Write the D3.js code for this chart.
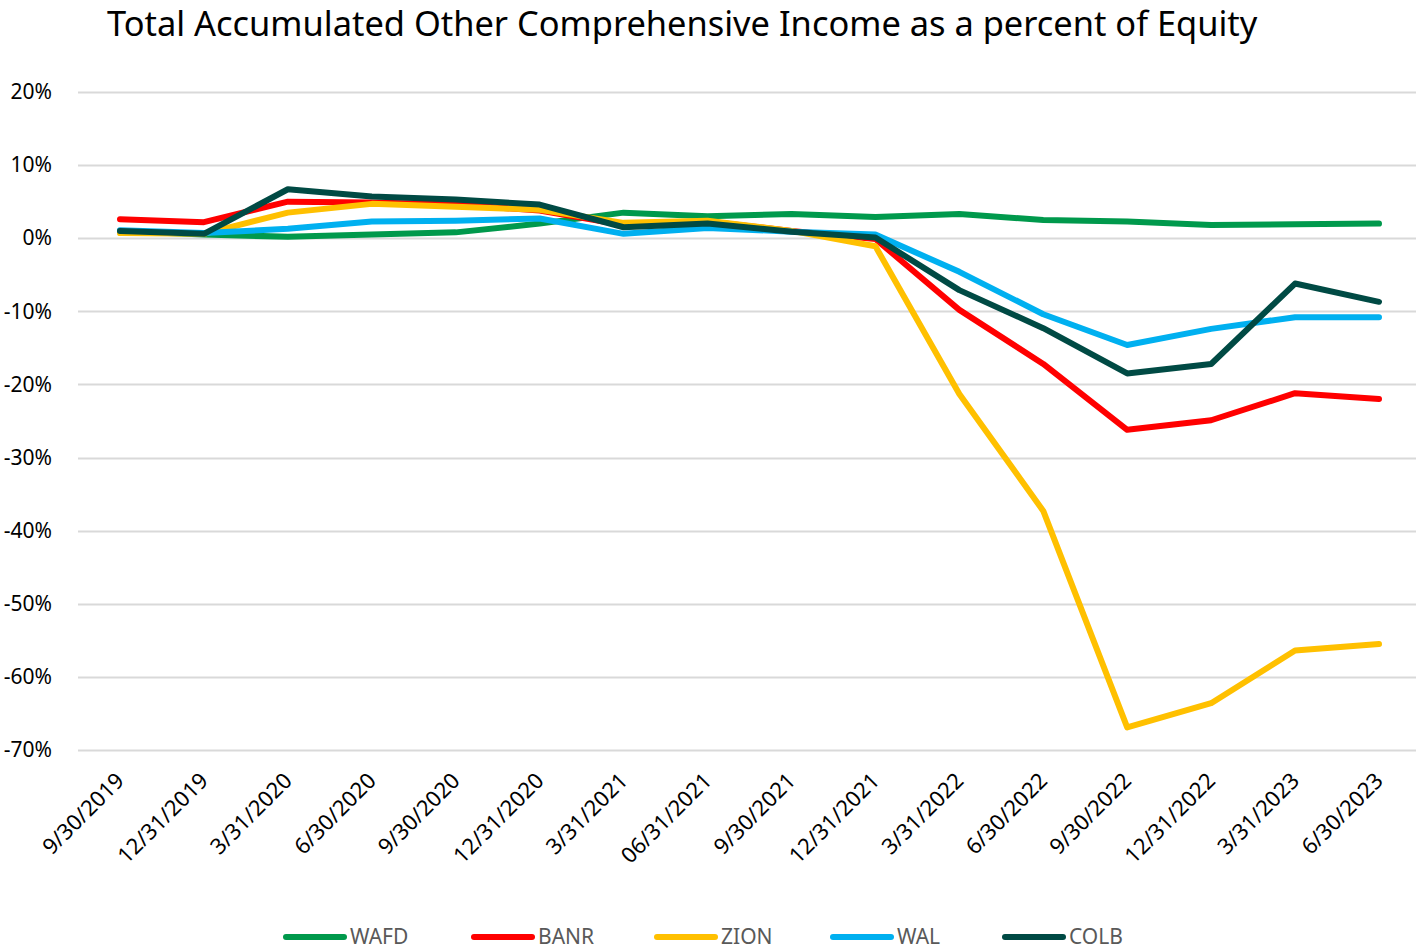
<!DOCTYPE html>
<html>
<head>
<meta charset="utf-8">
<script src="https://cdnjs.cloudflare.com/ajax/libs/d3/7.8.5/d3.min.js"></script>
<style>
  body { margin: 0; background: #fff; }
  text { font-family: "Noto Sans", "Open Sans", sans-serif; }
</style>
</head>
<body>
<div id="chart"></div>
<script>
var width = 1416, height = 951;

// quarter-end labels, as printed on the chart
var dates = ['9/30/2019', '12/31/2019', '3/31/2020', '6/30/2020', '9/30/2020', '12/31/2020',
    '3/31/2021', '06/31/2021', '9/30/2021', '12/31/2021', '3/31/2022', '6/30/2022',
    '9/30/2022', '12/31/2022', '3/31/2023', '6/30/2023'];

// AOCI as % of equity
var wafd = [1.0, 0.5, 0.2, 0.5, 0.8, 2.0, 3.5, 3.0, 3.3, 2.9, 3.3, 2.5, 2.3, 1.8, 1.9, 2.0];
var banr = [2.6, 2.2, 5.0, 4.9, 4.6, 3.8, 1.8, 2.3, 1.0, -0.1, -9.8, -17.2, -26.2, -24.9, -21.2, -22.0];
var zion = [0.7, 0.6, 3.5, 4.7, 4.3, 3.9, 2.1, 2.4, 1.0, -1.1, -21.3, -37.3, -66.9, -63.6, -56.4, -55.5];
var wal = [1.1, 0.7, 1.3, 2.3, 2.4, 2.7, 0.6, 1.4, 0.9, 0.5, -4.6, -10.4, -14.6, -12.4, -10.8, -10.8];
var colb = [1.0, 0.6, 6.7, 5.7, 5.3, 4.6, 1.5, 2.0, 0.9, 0.1, -7.1, -12.3, -18.5, -17.2, -6.2, -8.7];

var yTicks = [20, 10, 0, -10, -20, -30, -40, -50, -60, -70];

var series = [
    { name: 'WAFD', values: wafd, color: '#00994C' },
    { name: 'BANR', values: banr, color: '#FF0000' },
    { name: 'ZION', values: zion, color: '#FFC000' },
    { name: 'WAL', values: wal, color: '#00B0F0' },
    { name: 'COLB', values: colb, color: '#004A44' }
];

var x = d3.scalePoint().domain(dates).range([120, 1379]);
var y = d3.scaleLinear().domain([-70, 20]).range([750, 92]);

var vis = d3.select('#chart').append('svg')
    .attr('width', width)
    .attr('height', height);

// title, sized to fill the same span as the original
var title = vis.append('text')
    .attr('x', 107)
    .attr('y', 36)
    .attr('font-size', 34)
    .attr('fill', '#000')
    .text('Total Accumulated Other Comprehensive Income as a percent of Equity');
var tw = title.node().getComputedTextLength();
title.attr('font-size', 34 * 1151 / tw);

// gridlines
vis.append('g')
    .selectAll('line')
    .data(yTicks)
    .join('line')
    .attr('x1', 78)
    .attr('x2', 1416)
    .attr('y1', function(d) { return Math.round(y(d)) + 0.5; })
    .attr('y2', function(d) { return Math.round(y(d)) + 0.5; })
    .attr('stroke', '#D9D9D9')
    .attr('stroke-width', 2);

// y axis labels
var yAxis = d3.axisLeft(y)
    .tickValues(yTicks)
    .tickSize(0)
    .tickPadding(0)
    .tickFormat(function(d) { return d + '%'; });

vis.append('g')
    .attr('transform', 'translate(52,0)')
    .call(yAxis)
    .call(function(g) { g.select('.domain').remove(); })
    .selectAll('text')
    .attr('font-family', '"Noto Sans", sans-serif')
    .attr('font-size', 21)
    .attr('fill', '#000');

// x axis labels, rotated
var xAxis = d3.axisBottom(x).tickSize(0).tickPadding(0);
vis.append('g')
    .call(xAxis)
    .call(function(g) { g.select('.domain').remove(); })
    .selectAll('.tick text')
    .attr('font-family', '"Noto Sans", sans-serif')
    .attr('font-size', 22)
    .attr('fill', '#000')
    .attr('text-anchor', 'end')
    .attr('dy', null)
    .attr('y', null)
    .attr('transform', 'translate(5,782) rotate(-45)');

// lines
var line = d3.line()
    .x(function(d, i) { return x(dates[i]); })
    .y(function(d) { return y(d); });

vis.append('g')
    .selectAll('path')
    .data(series)
    .join('path')
    .attr('d', function(s) { return line(s.values); })
    .attr('fill', 'none')
    .attr('stroke', function(s) { return s.color; })
    .attr('stroke-width', 6)
    .attr('stroke-linejoin', 'round')
    .attr('stroke-linecap', 'round');

// legend
var legendX = [284, 472, 655, 831, 1003];
var legend = vis.append('g')
    .selectAll('g')
    .data(series)
    .join('g')
    .attr('transform', function(s, i) { return 'translate(' + legendX[i] + ',937)'; });

legend.append('line')
    .attr('x1', 2)
    .attr('x2', 60)
    .attr('stroke', function(s) { return s.color; })
    .attr('stroke-width', 6)
    .attr('stroke-linecap', 'round');

legend.append('text')
    .attr('x', 66)
    .attr('dy', '0.35em')
    .attr('font-size', 21)
    .attr('fill', '#595959')
    .text(function(s) { return s.name; });
</script>
</body>
</html>
